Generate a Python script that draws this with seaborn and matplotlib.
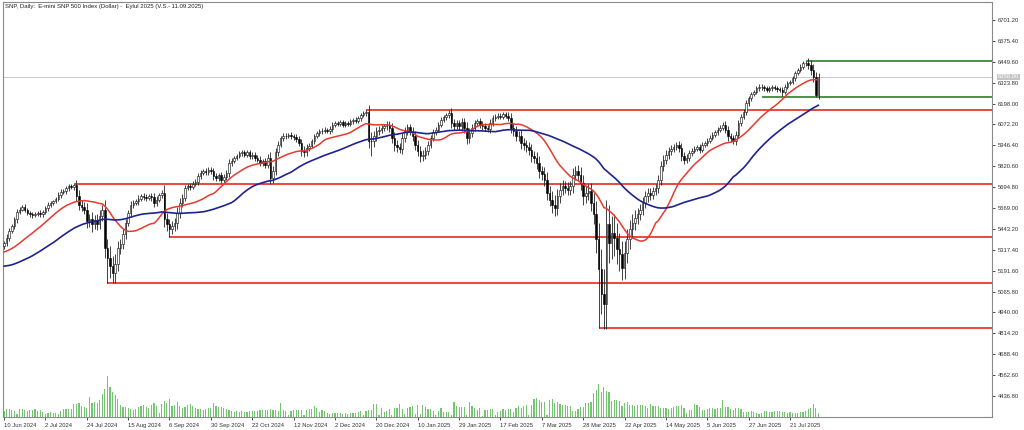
import matplotlib
matplotlib.use("Agg")
import matplotlib.pyplot as plt
import seaborn as sns
import numpy as np
import pandas as pd

title = "SNP, Daily:  E-mini SNP 500 Index (Dollar) -  Eylul 2025 (V.S.- 11.09.2025)"

# closes before the first visible bar (only used to warm up the moving averages)
warmup = [5290, 5300, 5280, 5250, 5230, 5240, 5210, 5220, 5190, 5150,
          5110, 5080, 5070, 5050, 5020, 5060, 5090, 5110, 5100, 5080,
          5050, 5090, 5120, 5150, 5180, 5200, 5220, 5240, 5230, 5250,
          5270, 5290, 5300, 5310, 5320, 5330, 5320, 5310, 5300, 5290,
          5280, 5270, 5290, 5300, 5280, 5290, 5310, 5320, 5340]

# daily closes, 10 Jun 2024 -> early Aug 2025
closes = [5358, 5390, 5430, 5460, 5500, 5545, 5560, 5575, 5560, 5540, 5530, 5525, 5535, 5540,
          5530, 5545, 5570, 5590, 5600, 5610, 5625, 5650, 5665, 5670, 5690, 5700, 5695, 5705,
          5640, 5590, 5575, 5560, 5490, 5500, 5470, 5495, 5475, 5520, 5560, 5330, 5270, 5220,
          5180, 5230,
          5330, 5350, 5410, 5480, 5540, 5585, 5600, 5610, 5625, 5640, 5635, 5630, 5640, 5635,
          5600, 5620, 5645, 5660, 5500, 5470, 5440, 5460, 5480, 5540, 5600, 5630,
          5690, 5700, 5695, 5715, 5725, 5760, 5780, 5790, 5785, 5800, 5790, 5760, 5750, 5765,
          5740, 5755, 5780, 5840, 5855, 5870, 5880, 5900, 5905, 5890, 5905, 5880, 5890, 5870,
          5860, 5840, 5850, 5830, 5870, 5750, 5790,
          5905, 5950, 5990, 6000, 6005, 6010, 6000, 5995, 5985, 5960, 5910, 5905, 5930, 5945,
          5970, 6000, 6020, 6030, 6035, 6040, 6030, 6045, 6070, 6080, 6075, 6085, 6070, 6080,
          6075, 6090, 6100, 6095, 6110, 6130, 6140, 6145,
          5975, 5970, 6000, 6030, 6040, 6050, 6060, 6070, 6050, 5990, 5950, 5935, 5925, 5990,
          6030, 6055, 6030, 6000, 5950, 5910, 5880, 5890, 5910, 5950, 5990, 6025, 6040, 6070,
          6100, 6115, 6130, 6140,
          6080, 6065, 6080, 6060, 6085, 6050, 5990, 6020, 6050, 6080, 6090, 6070, 6060, 6050,
          6045, 6080, 6110, 6120, 6125, 6120, 6135, 6125, 6110, 6050, 6030, 6000, 6005, 5960,
          5950, 5935, 5920, 5880, 5870, 5840,
          5790, 5775, 5740, 5660, 5620, 5590, 5570, 5640, 5680, 5700, 5690, 5680, 5700, 5770,
          5790, 5770, 5720, 5640, 5660, 5670, 5600, 5530, 5380, 5200, 5050, 4990,
          5470, 5360, 5420, 5390, 5320, 5290, 5210, 5300, 5380, 5440, 5480, 5510, 5530, 5560,
          5600, 5640, 5660, 5650, 5670, 5690, 5740, 5820, 5860, 5890, 5910, 5925, 5935, 5950,
          5930, 5880, 5860, 5870, 5900, 5915, 5925, 5935, 5920, 5950, 5960, 5975, 5990, 6010,
          6025, 6040, 6050, 6070, 6040, 6000, 5990, 5975, 6010, 6080, 6120, 6150, 6200, 6230,
          6255, 6270, 6290, 6300,
          6295, 6290, 6280, 6290, 6295, 6290, 6285, 6280, 6270, 6300, 6320, 6330, 6350, 6380,
          6400, 6420, 6440, 6445, 6430, 6400, 6360, 6250, 6358]

# how far each bar's shadow reaches past its body (points)
wicks = [15, 20, 18, 12, 15, 20, 14, 10, 16, 12, 14, 18, 10, 12, 15, 14, 12, 16, 14, 10,
         12, 15, 18, 12, 14, 16, 12, 20,
         30, 35, 25, 30, 40, 35, 45, 30, 40, 35, 30, 60, 55, 70, 60, 65,
         40, 35, 30, 25, 20, 25, 18, 15, 20, 15, 18, 20, 15, 22, 25, 20, 15, 18, 45, 40,
         35, 30, 28, 35, 30, 25,
         20, 15, 18, 14, 16, 20, 15, 12, 18, 15, 14, 20, 18, 16, 22, 18, 15, 25, 18, 15,
         14, 12, 15, 16, 12, 14, 15, 18, 16, 20, 15, 18, 22, 35, 30,
         25, 20, 15, 18, 14, 12, 16, 15, 18, 20, 25, 30, 22, 18, 15, 14, 12, 15, 16, 14,
         12, 15, 18, 14, 12, 15, 16, 14, 12, 15, 14, 16, 12, 14, 15, 18,
         45, 50, 35, 25, 20, 18, 15, 20, 22, 30, 35, 28, 25, 30, 25, 20, 22, 25, 30, 28,
         32, 30, 25, 22, 20, 18, 15, 14, 16, 15, 14, 18,
         30, 25, 20, 22, 25, 28, 35, 30, 25, 20, 18, 20, 22, 18, 20, 25, 18, 15, 14, 16,
         12, 15, 20, 30, 28, 30, 25, 35, 30, 28, 32, 35, 30, 38,
         40, 35, 38, 45, 40, 50, 55, 45, 40, 35, 30, 35, 30, 40, 35, 38, 45, 50, 40, 45,
         50, 60, 80, 100, 120, 150,
         150, 120, 100, 110, 90, 100, 80, 70, 60, 55, 50, 45, 40, 35, 35, 30, 32, 30, 28, 25,
         30, 35, 30, 28, 25, 22, 20, 18,
         25, 30, 28, 22, 20, 18, 16, 15, 18, 16, 14, 15, 16, 14, 15, 18, 16, 14, 20, 25,
         22, 20, 25, 20, 18, 16, 18, 15, 14, 12, 14, 15,
         14, 16, 12, 15, 14, 12, 15, 14, 18, 15, 14, 12, 14, 15, 12, 14, 16, 18, 25, 30,
         35, 30, 25]

# bars whose extreme defines a level (high or low of that day)
spike_bars = [27, 40, 64, 140, 142, 213, 230, 239, 301, 310, 314]
spike_prices = [5714, 5117, 5394, 6159, 5880, 5520, 4846, 5135, 6245, 6455, 6237]

# daily volume, thousands of contracts
volumes = [600, 800, 800, 700, 600, 300, 800, 800, 700, 600, 700, 700, 800, 600, 700, 500,
           300, 400, 500, 400, 400, 300, 600, 800,
           800, 800, 800, 1300, 1300,
           1400, 1100, 1000, 900,
           2000, 1400, 1500, 1400, 1700, 2300, 2800, 4100, 3000, 2500, 2200, 1800, 1200,
           1000, 1000, 900, 800, 700, 800, 1000, 1100, 1200, 1000, 900, 1200, 1400, 1100,
           400, 1300, 1600, 1400, 1800, 1100, 1200, 1500, 1100, 900, 1000, 1200, 1300, 1100,
           900, 800, 800, 700, 800, 900, 900, 1400, 1100, 1000, 1000, 900, 800, 700,
           600, 500, 600, 500, 600, 500, 500, 600, 600, 600, 600, 700, 700, 700,
           700, 800, 700, 700, 600, 1400, 700, 600, 200, 600, 700, 700, 700, 700,
           200, 700, 800, 800, 1100, 900, 500, 700, 600, 400, 300, 400, 400, 400,
           400, 300, 400, 300, 400, 400, 400, 500, 600, 200, 600, 700, 700, 1300,
           1300, 200, 900, 500, 600, 800, 200, 900, 900, 1300, 800, 300, 900, 1000,
           1100, 300, 1200, 300, 1200, 1000, 800, 800, 600, 200, 600, 900, 500, 500,
           500, 200, 1500, 1100, 1000, 1000, 1000, 200, 1500, 1100, 900, 700, 900, 100,
           700, 700, 800, 800, 200, 500, 600, 800, 700, 800,
           800, 500, 900, 1100, 900, 1100, 1200, 200, 1200, 1800, 1900, 1700, 1500, 1500,
           200, 1700, 1800, 1400, 1500, 1300, 1200, 1200, 1100, 1100, 600, 600, 800, 1000,
           1000, 1400, 1400, 1500, 2400, 2700, 3300, 2500, 3000, 2600, 2500, 1600, 1700, 1700,
           1600, 1100, 1400, 1500, 1200, 1200, 1100, 1200, 1200, 1200, 1100, 900, 1300, 1100,
           1100, 1100, 900, 900, 900, 800, 900, 1000, 1100, 1100, 1200, 900, 400, 700,
           700, 1300, 1200, 1000, 700, 700, 800, 900, 900, 800, 900, 900, 1700, 1000,
           1000, 800, 700, 900, 900, 800, 500, 500, 500, 600, 500, 400, 300, 400,
           600, 600, 500, 500, 600, 600, 600, 500, 500, 400, 500, 400, 400, 400,
           500, 500, 600, 800, 900, 1300, 900, 400]

# support / resistance levels and the bar where each one starts
red_levels = [6159, 5714, 5394, 5117, 4846]
red_starts = [140, 27, 64, 40, 230]
green_levels = [6455, 6237]
green_starts = [310, 293]

date_labels = ["10 Jun 2024", "2 Jul 2024", "24 Jul 2024", "15 Aug 2024", "6 Sep 2024",
               "30 Sep 2024", "22 Oct 2024", "12 Nov 2024", "2 Dec 2024", "20 Dec 2024",
               "10 Jan 2025", "29 Jan 2025", "17 Feb 2025", "7 Mar 2025", "28 Mar 2025",
               "22 Apr 2025", "14 May 2025", "5 Jun 2025", "27 Jun 2025", "21 Jul 2025"]
price_ticks = [6701.20, 6575.40, 6449.60, 6323.80, 6198.00, 6072.20, 5946.40, 5820.60,
               5694.80, 5569.00, 5443.20, 5317.40, 5191.60, 5065.80, 4940.00, 4814.20,
               4688.40, 4562.60, 4436.80]

sns.set_theme(style="white")
plt.rcParams['font.family'] = ['Liberation Sans', 'DejaVu Sans']

# moving averages (20 and 50 bars)
full = pd.Series(warmup + closes, dtype=float)
ma_fast = full.rolling(20).mean().iloc[len(warmup):].to_numpy()
ma_slow = full.rolling(50).mean().iloc[len(warmup):].to_numpy()

idx = np.arange(len(closes))
c = np.array(closes, dtype=float)
o = np.r_[warmup[-1], c[:-1]]
w = np.array(wicks, dtype=float)
hi = np.maximum(o, c) + w
lo = np.minimum(o, c) - w
for b, p in zip(spike_bars, spike_prices):
    if p > c[b]:
        hi[b] = p
    else:
        lo[b] = p

x_min, x_max = -0.39, 382.1

fig = plt.figure(figsize=(10.24, 4.30), dpi=100)
fig.patch.set_facecolor("white")
ax = fig.add_axes([3 / 1024, 13 / 430, 989 / 1024, 415 / 430])

# volume histogram in the bottom of the same window
axv = ax.twinx()
sns.barplot(x=idx, y=volumes, native_scale=True, width=0.45, color="#74c472",
            errorbar=None, linewidth=0, saturation=1, ax=axv)
axv.set_ylim(-50, 41500)
axv.set_yticks([])
axv.set_ylabel("")
axv.set_zorder(0)
ax.set_zorder(1)
ax.patch.set_visible(False)

# last price line
ax.axhline(c[-1], color="#c8c8c8", lw=0.7, zorder=1)

# levels
for lvl, s in zip(red_levels, red_starts):
    ax.hlines(lvl, s, x_max, color="#e8392f", lw=1.3, zorder=2)
for lvl, s in zip(green_levels, green_starts):
    ax.hlines(lvl, s, x_max, color="#2f7d2f", lw=1.2, zorder=2)

# bars
ax.vlines(idx, lo, hi, color="#222222", lw=0.6, zorder=3)
up = c >= o
ax.bar(idx[up], np.maximum(c[up] - o[up], 2), bottom=o[up], width=0.6,
       facecolor="white", edgecolor="black", linewidth=0.4, zorder=4)
ax.bar(idx[~up], np.maximum(o[~up] - c[~up], 2), bottom=c[~up], width=0.6,
       facecolor="black", edgecolor="black", linewidth=0.4, zorder=4)

# moving averages
sns.lineplot(x=idx, y=ma_fast, color="#e8392f", lw=1.1, ax=ax, zorder=5)
sns.lineplot(x=idx, y=ma_slow, color="#1f2390", lw=1.2, ax=ax, zorder=5)

ax.set_xlim(x_min, x_max)
ax.set_ylim(4310.5, 6809.6)
axv.set_xlim(x_min, x_max)

ax.yaxis.tick_right()
ax.set_yticks(price_ticks)
ax.set_yticklabels([f"{v:.2f}" for v in price_ticks])
ax.set_xticks(np.arange(len(date_labels)) * 16)
ax.set_xticklabels(date_labels)
for lbl in ax.get_xticklabels():
    lbl.set_horizontalalignment("left")
ax.tick_params(axis="both", labelsize=4.2, length=2.5, width=0.6, colors="#333333",
               direction="out", pad=1.5)
ax.tick_params(axis="y", right=True, left=False)
ax.tick_params(axis="x", bottom=True)
ax.set_xlabel("")
ax.set_ylabel("")
for sp in ax.spines.values():
    sp.set_color("#8a8a8a")
    sp.set_linewidth(0.8)
for sp in axv.spines.values():
    sp.set_visible(False)

ax.text(0.002, 0.995, title, transform=ax.transAxes, ha="left", va="top",
        fontsize=4.3, color="#222222")

ax.annotate(f"{c[-1]:.2f}", xy=(1, c[-1]), xycoords=ax.get_yaxis_transform(),
            xytext=(4, 0), textcoords="offset points", ha="left", va="center",
            fontsize=4.2, color="white", annotation_clip=False,
            bbox=dict(boxstyle="square,pad=0.15", fc="#c4c4c4", ec="none"))

fig.savefig("out.png", dpi=100)
